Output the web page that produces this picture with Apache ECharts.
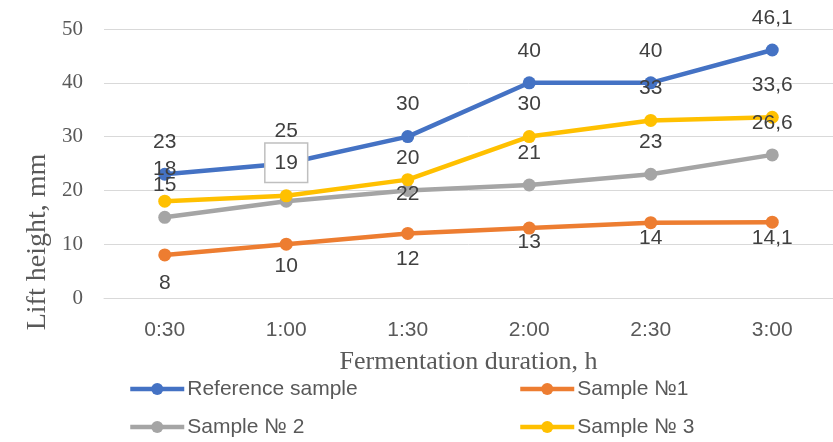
<!DOCTYPE html>
<html>
<head>
<meta charset="utf-8">
<script src="https://cdn.jsdelivr.net/npm/echarts@6/dist/echarts.min.js"></script>
<style>
  html, body { margin: 0; padding: 0; background: #fff; }
  #chart { width: 833px; height: 442px; }
</style>
</head>
<body>
<div id="chart"></div>
<script>
// Fermentation time points
const categories = ['0:30', '1:00', '1:30', '2:00', '2:30', '3:00'];

// Dough lift height, mm
const referenceSample = [23, 25, 30, 40, 40, 46.1];
const sample1 = [8, 10, 12, 13, 14, 14.1];
const sample2 = [15, 18, 20, 21, 23, 26.6];
const sample3 = [18, 19, 22, 30, 33, 33.6];

// Value axis range
const yMin = 0;
const yMax = 50;
const yStep = 10;

const SANS = '"Liberation Sans", Arial, sans-serif';
const SERIF = '"Liberation Serif", "Times New Roman", serif';
const TEXT = '#595959';
const LABEL = '#404040';

// Decimal comma, as in the source table
const fmt = p => String(p.value).replace('.', ',');

// Vertical drop of the Sample №1 value labels under their points
const s1LabelDrop = [28, 22, 26, 14, 16, 16];

function lineSeries(name, values, color, extra) {
  return Object.assign({
    name: name,
    type: 'line',
    data: values,
    symbol: 'circle',
    symbolSize: 13,
    lineStyle: { width: 4.5, color: color },
    itemStyle: { color: color },
    emphasis: { disabled: true },
    animation: false,
    label: {
      show: true,
      position: 'inside',
      offset: [0, -32],
      formatter: fmt,
      color: LABEL,
      fontFamily: SANS,
      fontSize: 21,
      lineHeight: 24
    }
  }, extra || {});
}

// Sample № 3 labels: boxed one at 1:00, one placed under its point at 1:30
function sample3Item(v, i) {
  if (i === 1) {
    return {
      value: v,
      label: {
        offset: [0, -33],
        backgroundColor: '#ffffff',
        borderColor: '#BFBFBF',
        borderWidth: 1.5,
        padding: [7, 9, 7, 9]
      }
    };
  }
  if (i === 2) {
    return { value: v, label: { offset: [0, 15] } };
  }
  return v;
}

const series = [
  lineSeries('Reference sample', referenceSample, '#4472C4'),
  lineSeries('Sample №1', sample1.map((v, i) => ({
    value: v,
    label: { offset: [0, s1LabelDrop[i]] }
  })), '#ED7D31'),
  lineSeries('Sample № 2', sample2, '#A5A5A5'),
  lineSeries('Sample № 3', sample3.map(sample3Item), '#FFC000')
];

function legendAt(name, left, top) {
  return {
    data: [name],
    left: left,
    top: top,
    padding: 0,
    itemWidth: 54,
    itemHeight: 15,
    itemGap: 0,
    selectedMode: false,
    lineStyle: { width: 4.5 },
    textStyle: { color: TEXT, fontFamily: SANS, fontSize: 21, lineHeight: 24, padding: [0, 0, 0, -2] }
  };
}

const option = {
  backgroundColor: '#ffffff',
  animation: false,
  grid: { left: 104, right: -7, top: 29, bottom: 144, containLabel: false },
  xAxis: {
    type: 'category',
    data: categories,
    boundaryGap: true,
    name: 'Fermentation duration, h',
    nameLocation: 'middle',
    nameGap: 37,
    nameTextStyle: { color: TEXT, fontFamily: SERIF, fontSize: 26, lineHeight: 30 },
    axisLine: { show: true, lineStyle: { color: '#D9D9D9', width: 1 } },
    axisTick: { show: false },
    axisLabel: { color: TEXT, fontFamily: SANS, fontSize: 21, lineHeight: 24, margin: 20 },
    splitLine: { show: false }
  },
  yAxis: {
    type: 'value',
    min: yMin,
    max: yMax,
    interval: yStep,
    axisLine: { show: false },
    axisTick: { show: false },
    axisLabel: { color: TEXT, fontFamily: SERIF, fontSize: 21, margin: 21 },
    splitLine: { show: true, lineStyle: { color: '#D9D9D9', width: 1 } }
  },
  legend: [
    legendAt('Reference sample', 128, 377),
    legendAt('Sample №1', 518, 377),
    legendAt('Sample № 2', 128, 415),
    legendAt('Sample № 3', 518, 415)
  ],
  graphic: [{
    type: 'text',
    x: 38,
    y: 242,
    rotation: Math.PI / 2,
    style: {
      text: 'Lift height, mm',
      fill: TEXT,
      font: '28px ' + SERIF,
      align: 'center',
      verticalAlign: 'middle'
    }
  }],
  series: series
};

const chart = echarts.init(document.getElementById('chart'), null, { renderer: 'canvas' });
chart.setOption(option);
</script>
</body>
</html>
